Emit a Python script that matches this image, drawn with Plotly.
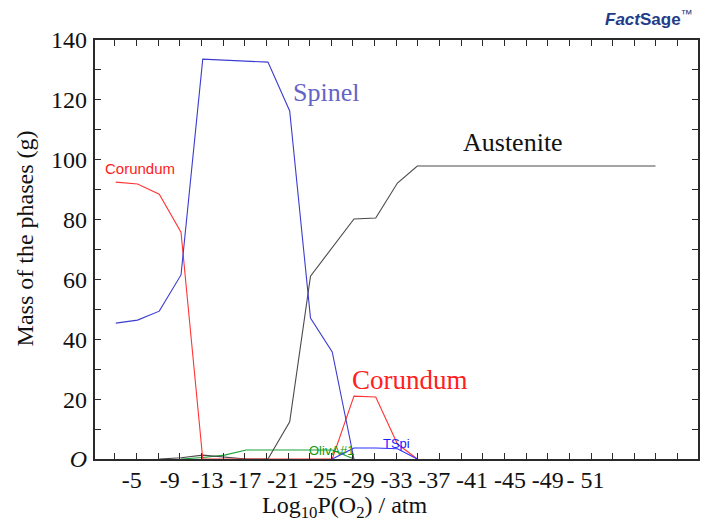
import plotly.graph_objects as go

# Equilibrium step grid, log10 P(O2) in atm
log_po2 = [-3.3, -5.6, -7.9, -10.2, -12.5, -14.8, -17.1, -19.4, -21.7,
           -23.9, -26.2, -28.5, -30.8, -33.1, -35.2]

# Phase masses (g) along the grid
spinel = [45.4, 46.4, 49.4, 61.5, 133.6, 133.2, 132.9, 132.6, 116.3,
          47.1, 35.8, 0.0, None, None, None]
corundum = [92.5, 91.9, 88.5, 75.8, 0.0, 0.0, 0.0, 0.0, 0.0,
            0.0, 0.0, 21.0, 20.7, 5.0, 0.0]
austenite_x = log_po2 + [-60.4]
austenite = [None, None, 0.0, 0.4, 1.3, 0.7, 0.0, 0.0, 12.4,
             61.1, 70.5, 80.2, 80.5, 92.2, 97.9, 97.9]
oliva = [None, None, None, 0.0, 0.5, 1.3, 3.0, 3.0, 3.0,
         3.0, 3.0, 0.0, None, None, None]
tspi = [None, None, None, None, None, None, None, None, None,
        None, 0.0, 3.7, 3.7, 3.4, 0.0]

# Axis labelling
x_tick_vals = [-5, -9, -13, -17, -21, -25, -29, -33, -37, -41, -45, -49, -53]
x_tick_text = ["-5", "-9", "-13", "-17", "-21", "-25", "-29", "-33",
               "-37", "-41", "-45", "-49", "- 51"]
x_step_start, x_step, x_step_count = -3.2, 2.29, 27
y_tick_vals = [0, 20, 40, 60, 80, 100, 120, 140]
y_tick_text = ["<i>O</i>", "20", "40", "60", "80", "100", "120", "140"]
y_minor_step = 10

SERIF = "Liberation Serif"
SANS = "Liberation Sans"
AXIS_COLOR = "#2a2a2a"
X_RANGE = [-1.1, -64.9]
Y_RANGE = [0, 140]

fig = go.Figure()

def add_line(x, y, color, name):
    fig.add_trace(go.Scatter(x=x, y=y, mode="lines", name=name,
                             line=dict(color=color, width=1.1),
                             connectgaps=False, hoverinfo="skip"))

add_line(log_po2, oliva, "#1aa33a", "OlivA#1")
add_line(austenite_x, austenite, "#4a4a4a", "Austenite")
add_line(log_po2, corundum, "#ff3535", "Corundum")
add_line(log_po2, spinel, "#3c3cd0", "Spinel")
add_line(log_po2, tspi, "#2f2fff", "TSpi")

# carrier trace for the label axes
fig.add_trace(go.Scatter(x=[None], y=[None], xaxis="x2", yaxis="y2",
                         mode="lines", showlegend=False, hoverinfo="skip"))

annotations = [
    dict(x=-25.5, y=122.6, text="Spinel", font=dict(family=SERIF, size=26, color="#6464c8")),
    dict(x=-45.3, y=105.6, text="Austenite", font=dict(family=SERIF, size=26, color="#111111")),
    dict(x=-34.4, y=26.4, text="Corundum", font=dict(family=SERIF, size=27, color="#ff2020")),
    dict(x=-5.84, y=97.2, text="Corundum", font=dict(family=SANS, size=15, color="#ff2020")),
    dict(x=-26.2, y=2.9, text="OlivA#1", font=dict(family=SANS, size=13, color="#109a10")),
    dict(x=-32.95, y=5.3, text="TSpi", font=dict(family=SANS, size=13, color="#2020ff")),
]
for a in annotations:
    fig.add_annotation(xref="x", yref="y", showarrow=False,
                       xanchor="center", yanchor="middle", **a)

# Axis titles
fig.add_annotation(xref="paper", yref="paper", x=0.413, y=-0.114,
                   text="Log<sub>10</sub>P(O<sub>2</sub>) / atm", showarrow=False,
                   xanchor="center", yanchor="middle",
                   font=dict(family=SERIF, size=24, color="#111111"))
fig.add_annotation(xref="paper", yref="paper", x=-0.1157, y=0.527,
                   text="Mass of the phases (g)", showarrow=False, textangle=-90,
                   xanchor="center", yanchor="middle",
                   font=dict(family=SERIF, size=24, color="#111111"))

# FactSage mark
fig.add_annotation(xref="paper", yref="paper", x=0.995, y=1.0525,
                   text="<b><i>Fact</i>Sage</b><sup>™</sup>", showarrow=False,
                   xanchor="right", yanchor="middle",
                   font=dict(family=SANS, size=17, color="#1f3c88"))

# Frame axes carry the tick marks on all four sides; x2/y2 carry the labels
step_ticks = [x_step_start - x_step * k for k in range(x_step_count)]
frame_tick = dict(ticks="inside", ticklen=6, tickcolor=AXIS_COLOR, tickwidth=1.3,
                  showticklabels=False, showgrid=False, zeroline=False,
                  showline=True, linecolor=AXIS_COLOR, mirror="ticks")
label_axis = dict(showgrid=False, zeroline=False, showline=False, ticks="",
                  tickmode="array",
                  tickfont=dict(family=SERIF, size=24, color="#111111"))

fig.update_layout(
    xaxis=dict(range=X_RANGE, tickmode="array", tickvals=step_ticks,
               linewidth=2, **frame_tick),
    yaxis=dict(range=Y_RANGE, tickmode="linear", tick0=0, dtick=y_minor_step,
               linewidth=1.5, **frame_tick),
    xaxis2=dict(range=X_RANGE, overlaying="x", anchor="y2", side="bottom",
                tickvals=x_tick_vals, ticktext=x_tick_text,
                ticklabelstandoff=4, **label_axis),
    yaxis2=dict(range=Y_RANGE, overlaying="y", anchor="x2", side="left",
                tickvals=y_tick_vals, ticktext=y_tick_text,
                ticklabelstandoff=7, **label_axis),
)

fig.update_layout(width=708, height=529, showlegend=False,
                  margin=dict(l=95, r=8, t=40, b=70),
                  paper_bgcolor="white", plot_bgcolor="white")

fig.write_html("out.html")
